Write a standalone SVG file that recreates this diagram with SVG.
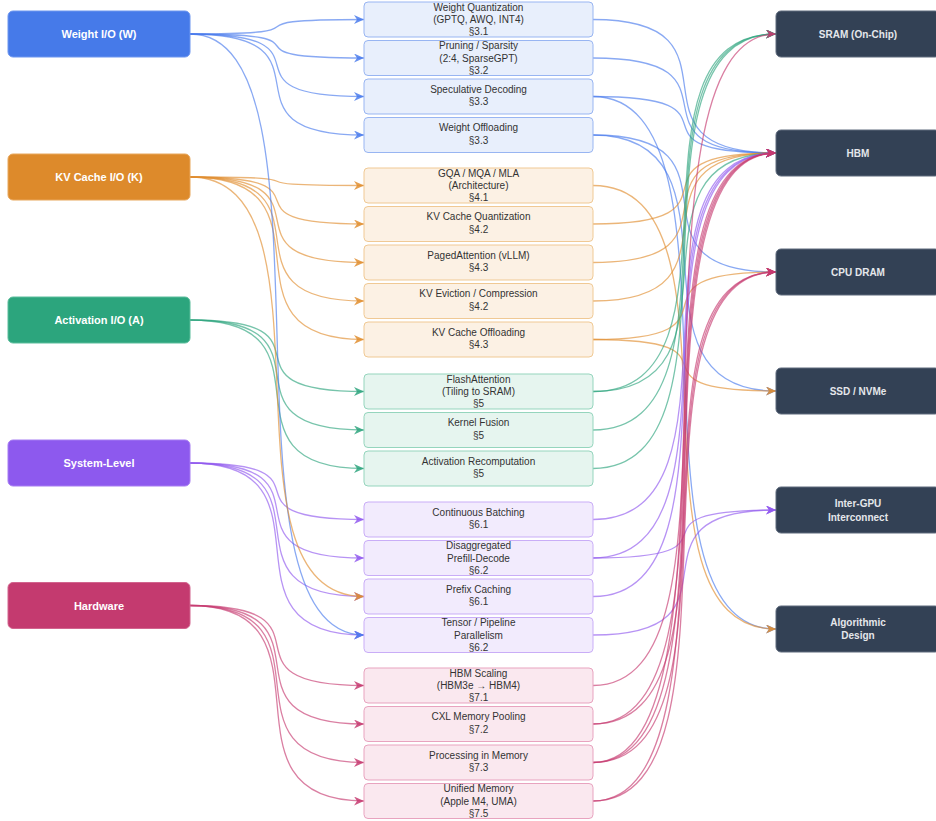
<svg xmlns="http://www.w3.org/2000/svg" width="936" height="821" viewBox="0 0 936 821">
<style>
.src rect{rx:5;ry:5}
.src text{font-family:"Liberation Sans",Arial,sans-serif;font-size:11px;font-weight:bold;fill:#ffffff;text-anchor:middle}
.mid rect{rx:4;ry:4;stroke-width:1}
.mid text{font-family:"Liberation Sans",Arial,sans-serif;font-size:10px;fill:#333333;text-anchor:middle}
.dst rect{fill:#334155;stroke:#5f6b7d;stroke-width:1;rx:5;ry:5}
.dst text{font-family:"Liberation Sans",Arial,sans-serif;font-size:10px;font-weight:bold;fill:#e5e7eb;text-anchor:middle}
.w rect{fill:#e8effc;stroke:#98b5f2}
.k rect{fill:#fcf1e4;stroke:#f0c994}
.a rect{fill:#e6f5ef;stroke:#95d5bd}
.s rect{fill:#f2ebfd;stroke:#c9adf7}
.h rect{fill:#fae8ef;stroke:#e8a3bf}
#edges path{fill:none;stroke-width:1.3;stroke-opacity:0.65}
.ew{stroke:#4a7bec;marker-end:url(#mW)}
.ek{stroke:#e08e2f;marker-end:url(#mK)}
.ea{stroke:#2ea57e;marker-end:url(#mA)}
.es{stroke:#9059ee;marker-end:url(#mS)}
.eh{stroke:#c63a70;marker-end:url(#mH)}
</style>
<defs>
<marker id="mW" markerUnits="userSpaceOnUse" markerWidth="11" markerHeight="10" refX="10" refY="4.5" orient="auto"><path d="M0,0 L10,4.5 L0,9 L3,4.5 Z" fill="#4a7bec" fill-opacity="0.85"/></marker>
<marker id="mK" markerUnits="userSpaceOnUse" markerWidth="11" markerHeight="10" refX="10" refY="4.5" orient="auto"><path d="M0,0 L10,4.5 L0,9 L3,4.5 Z" fill="#e08e2f" fill-opacity="0.85"/></marker>
<marker id="mA" markerUnits="userSpaceOnUse" markerWidth="11" markerHeight="10" refX="10" refY="4.5" orient="auto"><path d="M0,0 L10,4.5 L0,9 L3,4.5 Z" fill="#2ea57e" fill-opacity="0.85"/></marker>
<marker id="mS" markerUnits="userSpaceOnUse" markerWidth="11" markerHeight="10" refX="10" refY="4.5" orient="auto"><path d="M0,0 L10,4.5 L0,9 L3,4.5 Z" fill="#9059ee" fill-opacity="0.85"/></marker>
<marker id="mH" markerUnits="userSpaceOnUse" markerWidth="11" markerHeight="10" refX="10" refY="4.5" orient="auto"><path d="M0,0 L10,4.5 L0,9 L3,4.5 Z" fill="#c63a70" fill-opacity="0.85"/></marker>
</defs>

<g id="edges">
<!-- sources to techniques -->
<path class="ew" d="M190,34 C346.6,34 207.4,19.5 364,19.5"/>
<path class="ew" d="M190,34 C346.6,34 207.4,58 364,58"/>
<path class="ew" d="M190,34 C346.6,34 207.4,96.5 364,96.5"/>
<path class="ew" d="M190,34 C346.6,34 207.4,135 364,135"/>
<path class="ek" d="M190,177 C346.6,177 207.4,185.5 364,185.5"/>
<path class="ek" d="M190,177 C346.6,177 207.4,224 364,224"/>
<path class="ek" d="M190,177 C346.6,177 207.4,262.5 364,262.5"/>
<path class="ek" d="M190,177 C346.6,177 207.4,301 364,301"/>
<path class="ek" d="M190,177 C346.6,177 207.4,339.5 364,339.5"/>
<path class="ea" d="M190,320 C346.6,320 207.4,391.5 364,391.5"/>
<path class="ea" d="M190,320 C346.6,320 207.4,430 364,430"/>
<path class="ea" d="M190,320 C346.6,320 207.4,468.5 364,468.5"/>
<path class="es" d="M190,463 C346.6,463 207.4,519.5 364,519.5"/>
<path class="es" d="M190,463 C346.6,463 207.4,558 364,558"/>
<path class="es" d="M190,463 C346.6,463 207.4,596.5 364,596.5"/>
<path class="es" d="M190,463 C346.6,463 207.4,635 364,635"/>
<path class="eh" d="M190,605.5 C346.6,605.5 207.4,685.5 364,685.5"/>
<path class="eh" d="M190,605.5 C346.6,605.5 207.4,724 364,724"/>
<path class="eh" d="M190,605.5 C346.6,605.5 207.4,762.5 364,762.5"/>
<path class="eh" d="M190,605.5 C346.6,605.5 207.4,801 364,801"/>
<path class="ew" d="M190,34 C346.6,34 207.4,635 364,635"/>
<path class="ek" d="M190,177 C346.6,177 207.4,596.5 364,596.5"/>
<!-- techniques to memory targets -->
<path class="ew" d="M593,19.5 C757.7,19.5 611.3,153 776,153"/>
<path class="ew" d="M593,58 C757.7,58 611.3,153 776,153"/>
<path class="ew" d="M593,96.5 C757.7,96.5 611.3,153 776,153"/>
<path class="ew" d="M593,96.5 C757.7,96.5 611.3,629 776,629"/>
<path class="ew" d="M593,135 C757.7,135 611.3,272 776,272"/>
<path class="ew" d="M593,135 C757.7,135 611.3,391 776,391"/>
<path class="ek" d="M593,185.5 C757.7,185.5 611.3,629 776,629"/>
<path class="ek" d="M593,224 C757.7,224 611.3,153 776,153"/>
<path class="ek" d="M593,262.5 C757.7,262.5 611.3,153 776,153"/>
<path class="ek" d="M593,301 C757.7,301 611.3,153 776,153"/>
<path class="ek" d="M593,339.5 C757.7,339.5 611.3,272 776,272"/>
<path class="ek" d="M593,339.5 C757.7,339.5 611.3,391 776,391"/>
<path class="ea" d="M593,391.5 C757.7,391.5 611.3,34 776,34"/>
<path class="ea" d="M593,391.5 C757.7,391.5 611.3,153 776,153"/>
<path class="ea" d="M593,430 C757.7,430 611.3,34 776,34"/>
<path class="ea" d="M593,468.5 C757.7,468.5 611.3,34 776,34"/>
<path class="es" d="M593,519.5 C757.7,519.5 611.3,153 776,153"/>
<path class="es" d="M593,558 C757.7,558 611.3,153 776,153"/>
<path class="es" d="M593,558 C757.7,558 611.3,510 776,510"/>
<path class="es" d="M593,596.5 C757.7,596.5 611.3,153 776,153"/>
<path class="es" d="M593,635 C757.7,635 611.3,510 776,510"/>
<path class="eh" d="M593,685.5 C757.7,685.5 611.3,153 776,153"/>
<path class="eh" d="M593,724 C757.7,724 611.3,153 776,153"/>
<path class="eh" d="M593,724 C757.7,724 611.3,272 776,272"/>
<path class="eh" d="M593,762.5 C757.7,762.5 611.3,153 776,153"/>
<path class="eh" d="M593,762.5 C757.7,762.5 611.3,34 776,34"/>
<path class="eh" d="M593,762.5 C757.7,762.5 611.3,272 776,272"/>
<path class="eh" d="M593,801 C757.7,801 611.3,153 776,153"/>
<path class="eh" d="M593,801 C757.7,801 611.3,272 776,272"/>
</g>

<g id="src-weight" class="src"><rect x="8" y="11" width="182" height="46" fill="#467ae9" stroke="#6d96ef"/><text x="99" y="38">Weight I/O (W)</text></g>
<g id="src-kv" class="src"><rect x="8" y="154" width="182" height="46" fill="#dd8a2b" stroke="#e8a75c"/><text x="99" y="181">KV Cache I/O (K)</text></g>
<g id="src-act" class="src"><rect x="8" y="297" width="182" height="46" fill="#2ca57d" stroke="#5bbd9c"/><text x="99" y="324">Activation I/O (A)</text></g>
<g id="src-sys" class="src"><rect x="8" y="440" width="182" height="46" fill="#8d59ee" stroke="#a67cf2"/><text x="99" y="467">System-Level</text></g>
<g id="src-hw" class="src"><rect x="8" y="582.5" width="182" height="46" fill="#c43a6f" stroke="#d2648e"/><text x="99" y="609.5">Hardware</text></g>

<g id="t-wq" class="mid w"><rect x="364" y="2" width="229" height="35"/><text x="478.5" y="10.9">Weight Quantization</text><text x="478.5" y="23.1">(GPTQ, AWQ, INT4)</text><text x="478.5" y="35.3">§3.1</text></g>
<g id="t-prune" class="mid w"><rect x="364" y="40.5" width="229" height="35"/><text x="478.5" y="49.4">Pruning / Sparsity</text><text x="478.5" y="61.6">(2:4, SparseGPT)</text><text x="478.5" y="73.8">§3.2</text></g>
<g id="t-spec" class="mid w"><rect x="364" y="79" width="229" height="35"/><text x="478.5" y="92.9">Speculative Decoding</text><text x="478.5" y="105.3">§3.3</text></g>
<g id="t-woff" class="mid w"><rect x="364" y="117.5" width="229" height="35"/><text x="478.5" y="131.4">Weight Offloading</text><text x="478.5" y="143.8">§3.3</text></g>

<g id="t-gqa" class="mid k"><rect x="364" y="168" width="229" height="35"/><text x="478.5" y="176.9">GQA / MQA / MLA</text><text x="478.5" y="189.1">(Architecture)</text><text x="478.5" y="201.3">§4.1</text></g>
<g id="t-kvq" class="mid k"><rect x="364" y="206.5" width="229" height="35"/><text x="478.5" y="220.4">KV Cache Quantization</text><text x="478.5" y="232.8">§4.2</text></g>
<g id="t-paged" class="mid k"><rect x="364" y="245" width="229" height="35"/><text x="478.5" y="258.9">PagedAttention (vLLM)</text><text x="478.5" y="271.3">§4.3</text></g>
<g id="t-evict" class="mid k"><rect x="364" y="283.5" width="229" height="35"/><text x="478.5" y="297.4">KV Eviction / Compression</text><text x="478.5" y="309.8">§4.2</text></g>
<g id="t-kvoff" class="mid k"><rect x="364" y="322" width="229" height="35"/><text x="478.5" y="335.9">KV Cache Offloading</text><text x="478.5" y="348.3">§4.3</text></g>

<g id="t-flash" class="mid a"><rect x="364" y="374" width="229" height="35"/><text x="478.5" y="382.9">FlashAttention</text><text x="478.5" y="395.1">(Tiling to SRAM)</text><text x="478.5" y="407.3">§5</text></g>
<g id="t-fusion" class="mid a"><rect x="364" y="412.5" width="229" height="35"/><text x="478.5" y="426.4">Kernel Fusion</text><text x="478.5" y="438.8">§5</text></g>
<g id="t-recomp" class="mid a"><rect x="364" y="451" width="229" height="35"/><text x="478.5" y="464.9">Activation Recomputation</text><text x="478.5" y="477.3">§5</text></g>

<g id="t-batch" class="mid s"><rect x="364" y="502" width="229" height="35"/><text x="478.5" y="515.9">Continuous Batching</text><text x="478.5" y="528.3">§6.1</text></g>
<g id="t-disagg" class="mid s"><rect x="364" y="540.5" width="229" height="35"/><text x="478.5" y="549.4">Disaggregated</text><text x="478.5" y="561.6">Prefill-Decode</text><text x="478.5" y="573.8">§6.2</text></g>
<g id="t-prefix" class="mid s"><rect x="364" y="579" width="229" height="35"/><text x="478.5" y="592.9">Prefix Caching</text><text x="478.5" y="605.3">§6.1</text></g>
<g id="t-tp" class="mid s"><rect x="364" y="617.5" width="229" height="35"/><text x="478.5" y="626.4">Tensor / Pipeline</text><text x="478.5" y="638.6">Parallelism</text><text x="478.5" y="650.8">§6.2</text></g>

<g id="t-hbms" class="mid h"><rect x="364" y="668" width="229" height="35"/><text x="478.5" y="676.9">HBM Scaling</text><text x="478.5" y="689.1">(HBM3e → HBM4)</text><text x="478.5" y="701.3">§7.1</text></g>
<g id="t-cxl" class="mid h"><rect x="364" y="706.5" width="229" height="35"/><text x="478.5" y="720.4">CXL Memory Pooling</text><text x="478.5" y="732.8">§7.2</text></g>
<g id="t-pim" class="mid h"><rect x="364" y="745" width="229" height="35"/><text x="478.5" y="758.9">Processing in Memory</text><text x="478.5" y="771.3">§7.3</text></g>
<g id="t-uma" class="mid h"><rect x="364" y="783.5" width="229" height="35"/><text x="478.5" y="792.4">Unified Memory</text><text x="478.5" y="804.6">(Apple M4, UMA)</text><text x="478.5" y="816.8">§7.5</text></g>

<g id="d-sram" class="dst"><rect x="776" y="11" width="164" height="46"/><text x="858" y="37.5">SRAM (On-Chip)</text></g>
<g id="d-hbm" class="dst"><rect x="776" y="130" width="164" height="46"/><text x="858" y="156.5">HBM</text></g>
<g id="d-dram" class="dst"><rect x="776" y="249" width="164" height="46"/><text x="858" y="275.5">CPU DRAM</text></g>
<g id="d-ssd" class="dst"><rect x="776" y="368" width="164" height="46"/><text x="858" y="394.5">SSD / NVMe</text></g>
<g id="d-gpu" class="dst"><rect x="776" y="487" width="164" height="46"/><text x="858" y="506.5">Inter-GPU</text><text x="858" y="520.5">Interconnect</text></g>
<g id="d-alg" class="dst"><rect x="776" y="606" width="164" height="46"/><text x="858" y="626">Algorithmic</text><text x="858" y="639">Design</text></g>
</svg>
